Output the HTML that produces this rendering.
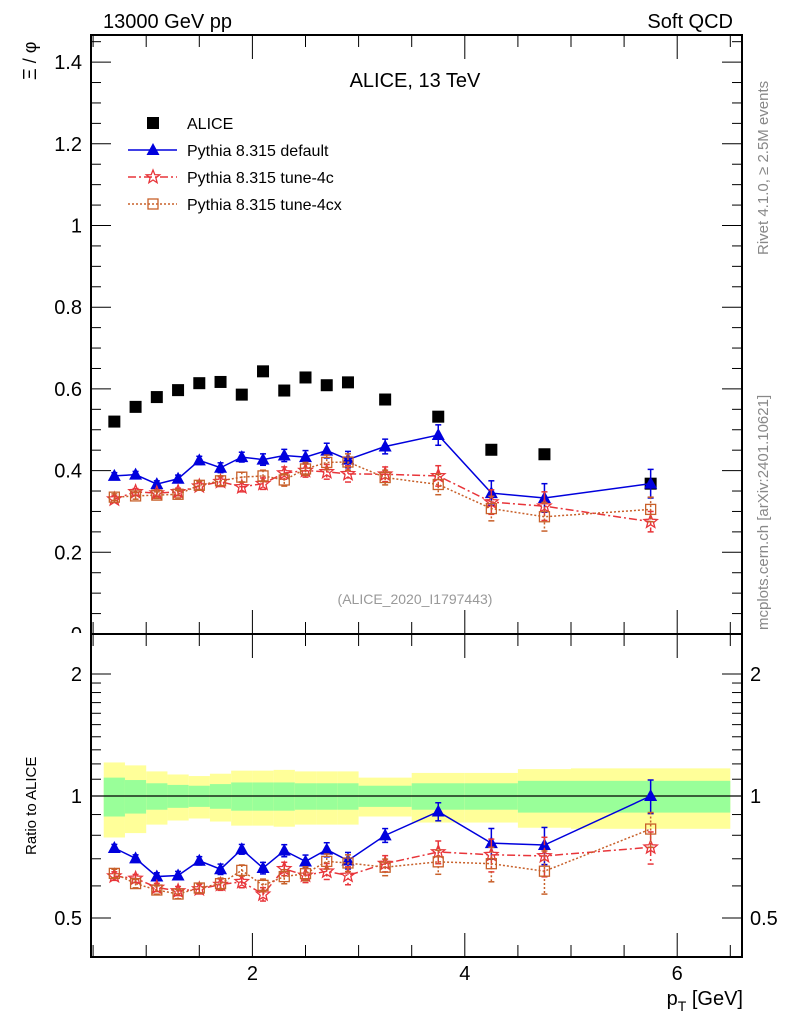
<!DOCTYPE html>
<html><head><meta charset="utf-8"><style>
body{margin:0;background:#fff}
svg{display:block;font-family:"Liberation Sans",sans-serif}
</style></head><body>
<svg id="c" width="786" height="1024" xmlns="http://www.w3.org/2000/svg">
<defs><clipPath id="topclip"><rect x="0" y="0" width="786" height="633"/></clipPath></defs>
<g id="bands"></g>
<g id="axes"></g>
<g id="marks"></g>
<text x="103" y="28" font-size="20">13000 GeV pp</text>
<text x="733" y="28" font-size="20" text-anchor="end">Soft QCD</text>
<text x="415" y="87" font-size="20" text-anchor="middle">ALICE, 13 TeV</text>
<text x="415" y="604" font-size="14" fill="#999" text-anchor="middle">(ALICE_2020_I1797443)</text>
<text transform="translate(768,255) rotate(-90)" font-size="15" fill="#888">Rivet 4.1.0, ≥ 2.5M events</text>
<text transform="translate(768,630) rotate(-90)" font-size="15" fill="#888">mcplots.cern.ch [arXiv:2401.10621]</text>
<text transform="translate(36,80) rotate(-90)" font-size="18">Ξ / φ</text>
<text transform="translate(36,855) rotate(-90)" font-size="15">Ratio to ALICE</text>
<text x="743" y="1005" font-size="20" text-anchor="end">p<tspan font-size="14" dy="6">T</tspan><tspan dy="-6"> [GeV]</tspan></text>
<g id="legend"></g>
</svg>
<script>
const xCenters=[0.7,0.9,1.1,1.3,1.5,1.7,1.9,2.1,2.3,2.5,2.7,2.9,3.25,3.75,4.25,4.75,5.75];
const xEdges=[0.6,0.8,1.0,1.2,1.4,1.6,1.8,2.0,2.2,2.4,2.6,2.8,3.0,3.5,4.0,4.5,5.0,6.5];
const aliceVals=[0.52,0.556,0.58,0.597,0.614,0.617,0.586,0.643,0.596,0.628,0.609,0.616,0.574,0.532,0.451,0.44,0.368];
const aliceStat=[0.11,0.095,0.075,0.065,0.06,0.07,0.08,0.08,0.08,0.075,0.075,0.075,0.06,0.075,0.075,0.09,0.09];
const aliceTot=[0.21,0.19,0.15,0.13,0.12,0.135,0.155,0.155,0.16,0.15,0.15,0.15,0.11,0.14,0.14,0.165,0.17];
const defVals=[0.387,0.39,0.367,0.38,0.425,0.407,0.433,0.427,0.437,0.433,0.449,0.427,0.459,0.487,0.345,0.333,0.368];
const defErr=[0.008,0.008,0.008,0.009,0.01,0.012,0.012,0.014,0.015,0.016,0.018,0.02,0.018,0.025,0.03,0.035,0.035];
const c4Vals=[0.330,0.348,0.345,0.348,0.362,0.373,0.360,0.368,0.394,0.400,0.397,0.392,0.391,0.387,0.323,0.313,0.275];
const c4Err=[0.008,0.008,0.008,0.009,0.01,0.012,0.012,0.014,0.015,0.016,0.018,0.02,0.018,0.025,0.03,0.035,0.025];
const cxVals=[0.335,0.338,0.34,0.342,0.364,0.375,0.384,0.387,0.377,0.404,0.420,0.421,0.383,0.366,0.307,0.287,0.305];
const cxErr=[0.008,0.008,0.008,0.009,0.01,0.012,0.012,0.014,0.015,0.016,0.018,0.02,0.018,0.025,0.03,0.035,0.03];
const yTicksMain=[0,0.2,0.4,0.6,0.8,1,1.2,1.4];
const xTicks=[2,4,6];
const rTicks=[0.5,1,2];

const NS="http://www.w3.org/2000/svg";
const X=v=>40+106.2*v;
const Y=v=>634-408.5*v;
const R=v=>796-122*Math.log2(v);
const L=91,RR=742,T1=35,B1=634,T2=634,B2=957;
function mk(p,tag,at){const e=document.createElementNS(NS,tag);for(const k in at)e.setAttribute(k,at[k]);p.appendChild(e);return e;}
const ax=document.getElementById('axes'),bd=document.getElementById('bands'),mg=document.getElementById('marks'),lg=document.getElementById('legend');

for(let i=0;i<xCenters.length;i++){
  const x0=X(xEdges[i]),x1=X(xEdges[i+1]);
  const y=mk(bd,'rect',{x:x0,y:R(1+aliceTot[i]),width:x1-x0,height:R(1-aliceTot[i])-R(1+aliceTot[i]),fill:'#ffff99'});
  
  
  const g=mk(bd,'rect',{x:x0,y:R(1+aliceStat[i]),width:x1-x0,height:R(1-aliceStat[i])-R(1+aliceStat[i]),fill:'#99ff99'});
  
  
}
mk(bd,'line',{x1:L,x2:RR,y1:R(1),y2:R(1),stroke:'#000','stroke-width':1.2});

mk(ax,'rect',{x:L,y:T1,width:RR-L,height:B1-T1,fill:'none',stroke:'#000','stroke-width':2});
mk(ax,'rect',{x:L,y:T2,width:RR-L,height:B2-T2,fill:'none',stroke:'#000','stroke-width':2});
for(let v=0;v<=1.46;v+=0.05){const vv=Math.round(v*100)/100;const maj=Math.abs(vv*10-Math.round(vv*10))<1e-6&&Math.round(vv*10)%2===0;const len=maj?20:10;
  mk(ax,'line',{x1:L,x2:L+len,y1:Y(vv),y2:Y(vv),stroke:'#000'});mk(ax,'line',{x1:RR,x2:RR-len,y1:Y(vv),y2:Y(vv),stroke:'#000'});}
yTicksMain.forEach(v=>{const t=mk(ax,'text',{x:82,y:Y(v)+7,'font-size':20,'text-anchor':'end','clip-path':'url(#topclip)'});t.textContent=String(v);
  
  });
for(let v=0.5;v<=6.5;v+=0.5){const maj=xTicks.includes(v);const len=maj?24:12;
  mk(ax,'line',{x1:X(v),x2:X(v),y1:B1,y2:B1-len,stroke:'#000'});
  mk(ax,'line',{x1:X(v),x2:X(v),y1:B2,y2:B2-len,stroke:'#000'});
  mk(ax,'line',{x1:X(v),x2:X(v),y1:T2,y2:T2+len,stroke:'#000'});
  mk(ax,'line',{x1:X(v),x2:X(v),y1:T1,y2:T1+len,stroke:'#000'});}
xTicks.forEach(v=>{const t=mk(ax,'text',{x:X(v),y:980,'font-size':20,'text-anchor':'middle'});t.textContent=String(v);
  
  });
[0.4,0.5,0.6,0.7,0.8,0.9,1,1.1,1.2,1.3,1.4,1.5,1.6,1.7,1.8,1.9,2].forEach(v=>{const len=rTicks.includes(v)?20:10;
  mk(ax,'line',{x1:L,x2:L+len,y1:R(v),y2:R(v),stroke:'#000'});mk(ax,'line',{x1:RR,x2:RR-len,y1:R(v),y2:R(v),stroke:'#000'});});
rTicks.forEach(v=>{[[82,'end'],[750,'start']].forEach(([x,a])=>{const t=mk(ax,'text',{x:x,y:R(v)+7,'font-size':20,'text-anchor':a});t.textContent=String(v);
  
  });});

function marker(p,type,x,y,col){
  if(type==='sq')return mk(p,'rect',{x:x-6,y:y-6,width:12,height:12,fill:'#000'});
  if(type==='tri')return mk(p,'polygon',{points:`${x},${y-7} ${x-6.5},${y+5} ${x+6.5},${y+5}`,fill:col});
  if(type==='star'){let pts=[];for(let k=0;k<10;k++){const r=k%2?3:7,a=-Math.PI/2+k*Math.PI/5;pts.push((x+r*Math.cos(a)).toFixed(1)+','+(y+r*Math.sin(a)).toFixed(1));}
    return mk(p,'polygon',{points:pts.join(' '),fill:'none',stroke:col,'stroke-width':1.3});}
  return mk(p,'rect',{x:x-5,y:y-5,width:10,height:10,fill:'none',stroke:col,'stroke-width':1.3});
}
function series(name,vals,errs,type,col,dash,ratio){
  const g=mk(mg,'g',{});
  
  
  const f=ratio?(v,i)=>R(v/aliceVals[i]):(v)=>Y(v);
  if(type!=='sq'){
    mk(g,'polyline',{points:vals.map((v,i)=>X(xCenters[i])+','+f(v,i)).join(' '),fill:'none',stroke:col,'stroke-width':1.5,'stroke-dasharray':dash});
    vals.forEach((v,i)=>{const x=X(xCenters[i]);const a=f(v+errs[i],i),b=f(v-errs[i],i);
      mk(g,'line',{x1:x,x2:x,y1:a,y2:b,stroke:col,'stroke-width':1.5,'stroke-dasharray':dash});
      mk(g,'line',{x1:x-3,x2:x+3,y1:a,y2:a,stroke:col,'stroke-width':1.5});mk(g,'line',{x1:x-3,x2:x+3,y1:b,y2:b,stroke:col,'stroke-width':1.5});});
  }
  vals.forEach((v,i)=>{const m=marker(g,type,X(xCenters[i]),f(v,i),col);
    
    });
}
series('alice-data',aliceVals,aliceVals.map(()=>0),'sq','#000','',false);
series('pythia-default',defVals,defErr,'tri','#0000dd','',false);
series('pythia-tune-4c',c4Vals,c4Err,'star','#e8353a','8,3,2,3',false);
series('pythia-tune-4cx',cxVals,cxErr,'box','#c8602a','2,2',false);
series('ratio-default',defVals,defErr,'tri','#0000dd','',true);
series('ratio-tune-4c',c4Vals,c4Err,'star','#e8353a','8,3,2,3',true);
series('ratio-tune-4cx',cxVals,cxErr,'box','#c8602a','2,2',true);

const ent=[['ALICE','sq','#000',''],['Pythia 8.315 default','tri','#0000dd',''],['Pythia 8.315 tune-4c','star','#e8353a','8,3,2,3'],['Pythia 8.315 tune-4cx','box','#c8602a','2,2']];
ent.forEach((e,i)=>{const y=123+27*i;const g=mk(lg,'g',{});
  
  
  if(i>0)mk(g,'line',{x1:128,x2:177,y1:y,y2:y,stroke:e[2],'stroke-width':1.5,'stroke-dasharray':e[3]});
  marker(g,e[1],153,y,e[2]);
  const t=mk(g,'text',{x:187,y:y+6,'font-size':16});t.textContent=e[0];});
</script>
</body></html>
